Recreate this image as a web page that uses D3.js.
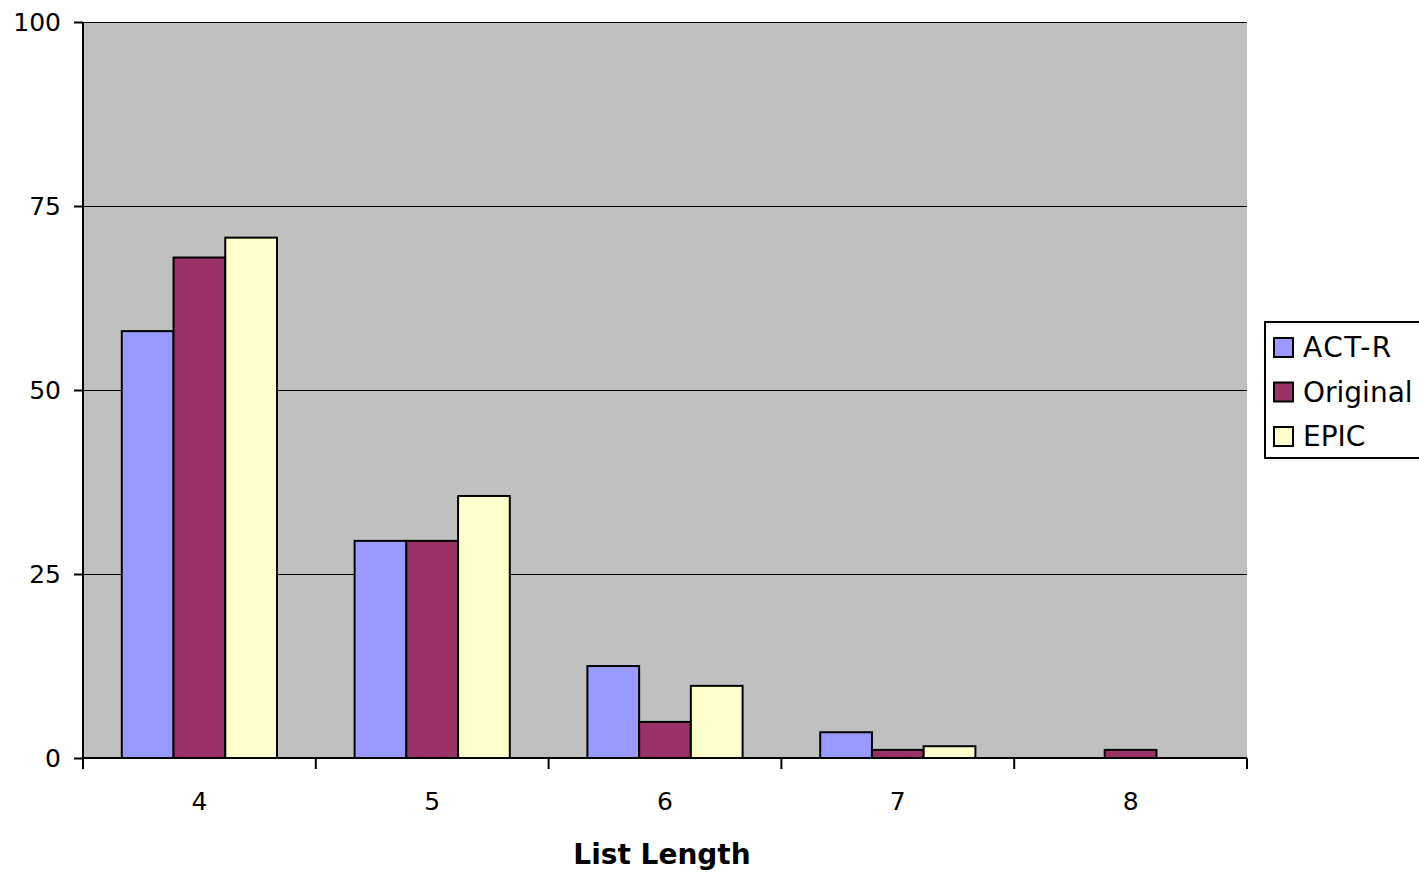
<!DOCTYPE html>
<html><head><meta charset="utf-8">
<script src="https://cdn.jsdelivr.net/npm/d3@7"></script>
<style>body{margin:0;background:#fff}svg{display:block}text{font-family:"DejaVu Sans",Verdana,sans-serif}</style>
</head><body>
<script>
const categories = ["4","5","6","7","8"];
const seriesNames = ["ACT-R","Original","EPIC"];
const actR = [58, 29.5, 12.5, 3.5, 0];
const original = [68, 29.5, 4.9, 1.1, 1.1];
const epic = [70.7, 35.6, 9.8, 1.6, 0];
const colors = ["#9999ff","#993366","#ffffcc"];
const yTicks = [0,25,50,75,100];
const xTitle = "List Length";

const W=1419,H=872;
const m={left:83,top:22,right:1247,bottom:758};
const svg=d3.select("body").append("svg").attr("width",W).attr("height",H);
const x=d3.scaleBand().domain(categories).range([m.left,m.right]).paddingInner(0).paddingOuter(0);
const y=d3.scaleLinear().domain([0,100]).range([m.bottom,m.top]);
const bw=x.bandwidth()/4.5;

svg.append("rect").attr("x",m.left).attr("y",m.top).attr("width",m.right-m.left).attr("height",m.bottom-m.top).attr("fill","#c0c0c0");
svg.append("g").selectAll("line").data(yTicks.filter(d=>d>0)).join("line")
 .attr("x1",m.left).attr("x2",m.right).attr("y1",d=>Math.round(y(d))+0.5).attr("y2",d=>Math.round(y(d))+0.5).attr("stroke","#000").attr("stroke-width",1);

const series=[actR,original,epic];
series.forEach((vals,si)=>{
  svg.append("g").selectAll("rect").data(categories.map((c,i)=>({c,v:vals[i]})).filter(d=>d.v>0)).join("rect")
   .attr("x",d=>x(d.c)+0.75*bw+si*bw).attr("width",bw)
   .attr("y",d=>y(d.v)).attr("height",d=>y(0)-y(d.v))
   .attr("fill",colors[si]).attr("stroke","#000").attr("stroke-width",2);
});

// y axis
const ya=svg.append("g").attr("transform",`translate(${m.left},0)`)
 .call(d3.axisLeft(y).tickValues(yTicks).tickSize(9).tickPadding(13));
ya.attr("font-size",null).attr("font-family",null);
ya.select(".domain").attr("stroke-width",2).attr("d",`M-0,${m.top}V${m.bottom+10}`);
ya.selectAll(".tick line").attr("stroke-width",2);
ya.selectAll("text").style("font-size","25px").attr("fill","#000");

// x axis
const xa=svg.append("g").attr("transform",`translate(0,${m.bottom})`)
 .call(d3.axisBottom(x).tickSize(0).tickPadding(34));
xa.attr("font-size",null).attr("font-family",null);
xa.select(".domain").attr("stroke-width",2).attr("d",`M${m.left},0H${m.right}`);
xa.selectAll("text").style("font-size","25px").attr("fill","#000");
const bounds=categories.map(c=>x(c)).concat([m.right]);
svg.append("g").selectAll("line").data(bounds).join("line")
 .attr("x1",d=>d).attr("x2",d=>d).attr("y1",m.bottom).attr("y2",m.bottom+11).attr("stroke","#000").attr("stroke-width",2);

svg.append("text").attr("x",(m.left+m.right)/2-3).attr("y",864).attr("text-anchor","middle")
 .style("font-size","28px").attr("font-weight","bold").text(xTitle);

// legend
const lg=svg.append("g");
lg.append("rect").attr("x",1265).attr("y",322).attr("width",160).attr("height",136).attr("fill","#fff").attr("stroke","#000").attr("stroke-width",2);
seriesNames.forEach((n,i)=>{
  const cy=347+i*44.5;
  lg.append("rect").attr("x",1274).attr("y",cy-9).attr("width",19).attr("height",19).attr("fill",colors[i]).attr("stroke","#000").attr("stroke-width",2);
  lg.append("text").attr("x",1303).attr("y",cy+10).style("font-size","28px").attr("letter-spacing",i===0?1.5:0).text(n);
});
</script>
</body></html>
